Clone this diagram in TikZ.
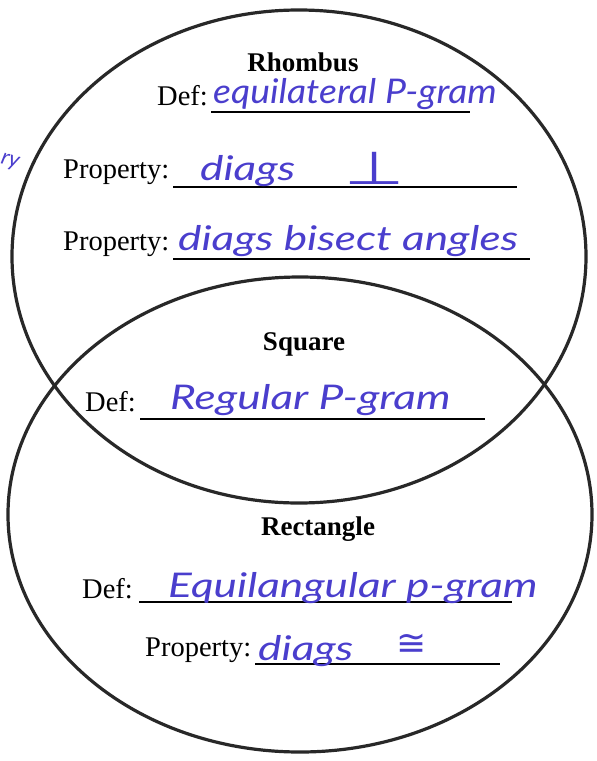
\documentclass[tikz,border=0pt]{standalone}
\usepackage{fontspec}
\setmainfont{Liberation Serif}
\newfontfamily\hand{Lato}
\newfontfamily\symf{DejaVu Sans}
\definecolor{ink}{RGB}{74,62,205}
\definecolor{pencil}{RGB}{40,40,40}
\newcommand{\hw}[2]{\scalebox{#1}[1]{#2}}
\begin{document}
\begin{tikzpicture}[x=1pt,y=-1pt,
  venn/.style={draw=pencil,line width=3.2pt},
  rule/.style={draw=black,line width=2.4pt},
  printed/.style={inner sep=0pt,font=\fontsize{28.5}{32}\selectfont},
  heading/.style={inner sep=0pt,font=\fontsize{27}{30}\selectfont\bfseries},
  handw/.style={inner sep=0pt,text=ink,font=\hand\itshape\fontsize{34}{38}\selectfont}]
\useasboundingbox[fill=white] (0,0) rectangle (597,761);
% circles
\draw[venn] (299,256.5) ellipse [x radius=287, y radius=246.5];
\draw[venn] (300,514.5) ellipse [x radius=292, y radius=237.5];
% Rhombus
\node[heading,anchor=base] (rh) at (303,71) {Rhombus};
\node[printed,anchor=base west] (rhdef) at (157,105) {Def:};
\coordinate (rhdefA) at (211,112); \coordinate (rhdefB) at (470,112);
\draw[rule] (rhdefA) -- (rhdefB);
\node[handw,anchor=base west] (rhdefh) at (213,103) {\hw{1.1}{equilateral P-gram}};
\node[printed,anchor=base west] (rhp1) at (63,178) {Property:};
\coordinate (rhp1A) at (173,187); \coordinate (rhp1B) at (517,187);
\draw[rule] (rhp1A) -- (rhp1B);
\node[handw,anchor=base west] (rhp1h) at (200,180) {\hw{1.3}{diags}};
\node[inner sep=0pt,text=ink,font=\symf\fontsize{46}{50}\selectfont,anchor=base] (perp) at (375,184) {\hw{1.5}{⊥}};
\node[printed,anchor=base west] (rhp2) at (63,250) {Property:};
\coordinate (rhp2A) at (173,259); \coordinate (rhp2B) at (530,259);
\draw[rule] (rhp2A) -- (rhp2B);
\node[handw,anchor=base west] (rhp2h) at (178,250) {\hw{1.3}{diags bisect angles}};
% Square
\node[heading,anchor=base] (sq) at (304,350) {Square};
\node[printed,anchor=base west] (sqdef) at (85,411) {Def:};
\coordinate (sqdefA) at (140,419); \coordinate (sqdefB) at (485,419);
\draw[rule] (sqdefA) -- (sqdefB);
\node[handw,anchor=base west] (sqdefh) at (170,409) {\hw{1.3}{Regular P-gram}};
% Rectangle
\node[heading,anchor=base] (re) at (318,535) {Rectangle};
\node[printed,anchor=base west] (redef) at (82,598) {Def:};
\coordinate (redefA) at (139,602); \coordinate (redefB) at (512,602);
\draw[rule] (redefA) -- (redefB);
\node[handw,anchor=base west] (redefh) at (168,597) {\hw{1.3}{Equilangular p-gram}};
\node[printed,anchor=base west] (rep) at (145,656) {Property:};
\coordinate (repA) at (255,664); \coordinate (repB) at (500,664);
\draw[rule] (repA) -- (repB);
\node[handw,anchor=base west] (reph) at (258,660) {\hw{1.3}{diags}};
\node[inner sep=0pt,text=ink,font=\symf\fontsize{36}{40}\selectfont,anchor=base] (cong) at (412,655) {≅};
% stray handwriting at the left margin
\node[inner sep=0pt,text=ink,font=\hand\itshape\fontsize{22}{26}\selectfont,anchor=base west,rotate=-15] (stray) at (0,163) {ry};
\end{tikzpicture}
\end{document}
